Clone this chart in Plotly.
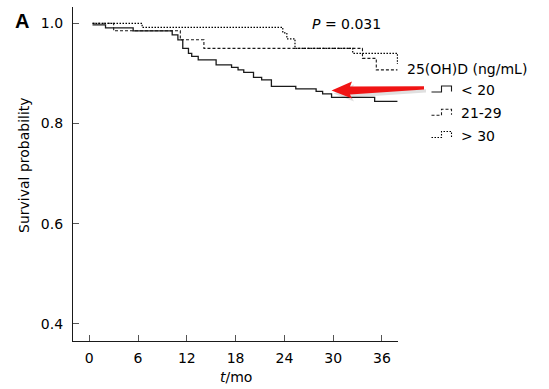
import plotly.graph_objects as go

# ---- data ----
t_lt20 = [0.4, 2.0, 5.4, 10.2, 10.9, 11.5, 12.2, 12.6, 13.4, 15.6, 17.5, 18.3, 19.0, 20.2, 21.2, 22.4, 25.4, 27.9, 28.7, 29.8, 35.1, 37.9]
s_lt20 = [0.997, 0.991, 0.985, 0.977, 0.967, 0.950, 0.940, 0.934, 0.927, 0.917, 0.912, 0.907, 0.902, 0.892, 0.887, 0.874, 0.869, 0.864, 0.859, 0.852, 0.844, 0.844]

t_21_29 = [0.4, 3.0, 11.2, 14.1, 33.6, 35.3, 37.9]
s_21_29 = [1.0, 0.985, 0.967, 0.950, 0.930, 0.907, 0.907]

t_gt30 = [0.4, 6.5, 23.8, 24.3, 25.3, 32.4, 37.9]
s_gt30 = [1.0, 0.992, 0.981, 0.969, 0.950, 0.940, 0.919]

x_ticks = [0, 6, 12, 18, 24, 30, 36]
y_ticks = [0.4, 0.6, 0.8, 1.0]
y_tick_labels = ["0.4", "0.6", "0.8", "1.0"]

group_names = ["< 20", "21-29", "> 30"]
legend_title = "25(OH)D (ng/mL)"
p_text = "<i>P</i> = 0.031"

# ---- layout geometry ----
W, H = 549, 389
L, R, T, B = 73, 151, 7, 48
PW, PH = W - L - R, H - T - B
FONT = "DejaVu Sans"
LINE_COL = "#1a1a1a"


def px(x):
    return (x - L) / PW


def py(y):
    return (H - B - y) / PH


fig = go.Figure()
styles = [dict(color=LINE_COL, width=1.3),
          dict(color=LINE_COL, width=1.1, dash="3px,2px"),
          dict(color="#000000", width=1.2, dash="1.5px,1.5px")]
for name, tt, ss, st in zip(group_names, [t_lt20, t_21_29, t_gt30], [s_lt20, s_21_29, s_gt30], styles):
    fig.add_trace(go.Scatter(x=tt, y=ss, mode="lines", line=dict(shape="hv", **st),
                             name=name, showlegend=False, hoverinfo="skip"))

fig.update_layout(
    width=W, height=H, margin=dict(l=L, r=R, t=T, b=B),
    plot_bgcolor="white", paper_bgcolor="white",
    font=dict(family=FONT, size=14, color="black"),
    xaxis=dict(range=[-2, 37.97], tickvals=x_ticks, ticks="inside", ticklen=6, tickwidth=1.2,
               tickcolor="#555", showline=True, linecolor=LINE_COL, linewidth=1.3,
               showgrid=False, zeroline=False, ticklabelstandoff=4),
    yaxis=dict(range=[0.366, 1.0325], tickvals=y_ticks, ticktext=y_tick_labels, ticks="inside",
               ticklen=6, tickwidth=1.2, tickcolor="#555", showline=True, linecolor=LINE_COL,
               linewidth=1.3, showgrid=False, zeroline=False, ticklabelstandoff=6),
)

ann = []
ann.append(dict(x=px(21.5), y=py(21), xref="paper", yref="paper", text="<b>A</b>", showarrow=False,
                font=dict(family="Liberation Sans", size=20), xanchor="center", yanchor="middle"))
ann.append(dict(x=px(235.5), y=py(377), xref="paper", yref="paper", text="<i>t</i>/mo", showarrow=False,
                xanchor="center", yanchor="middle"))
ann.append(dict(x=px(24), y=py(165), xref="paper", yref="paper", text="Survival probability", showarrow=False,
                textangle=-90, xanchor="center", yanchor="middle"))
ann.append(dict(x=px(310), y=py(24), xref="paper", yref="paper", text=p_text, showarrow=False,
                xanchor="left", yanchor="middle"))
ann.append(dict(x=px(405), y=py(68.5), xref="paper", yref="paper", text=legend_title, showarrow=False,
                xanchor="left", yanchor="middle"))
item_y = [90, 113.3, 135.5]
for name, yy in zip(group_names, item_y):
    ann.append(dict(x=px(459), y=py(yy), xref="paper", yref="paper", text=name, showarrow=False,
                    xanchor="left", yanchor="middle"))
fig.update_layout(annotations=ann)

shapes = []
# legend step icons
for st, yy in zip(styles, item_y):
    yb, yt = yy + 2, yy - 4
    path = (f"M{px(431.5)},{py(yb)} L{px(441.5)},{py(yb)} L{px(441.5)},{py(yt)} "
            f"L{px(451.5)},{py(yt)} L{px(451.5)},{py(yb - 0.5)}")
    shapes.append(dict(type="path", xref="paper", yref="paper", path=path,
                       line=dict(color=st["color"], width=1.1, dash=st.get("dash", "solid"))))

# red arrow with soft shadow
def arrow_path(dx, dy):
    pts = [(331.5, 90.5), (352, 81.5), (350, 86.5), (424, 86.3), (424, 89.5), (350, 94.5), (352, 98.5)]
    s = "M" + " L".join(f"{px(a + dx)},{py(b + dy)}" for a, b in pts) + " Z"
    return s

shapes.append(dict(type="path", xref="paper", yref="paper", path=arrow_path(2, 3),
                   fillcolor="rgba(0,0,0,0.12)", line=dict(width=0)))
shapes.append(dict(type="path", xref="paper", yref="paper", path=arrow_path(0, 0),
                   fillcolor="#f01414", line=dict(width=0)))
fig.update_layout(shapes=shapes)

fig.write_html("out.html", config={"displayModeBar": False},
               post_script="document.body.style.margin='0';")
